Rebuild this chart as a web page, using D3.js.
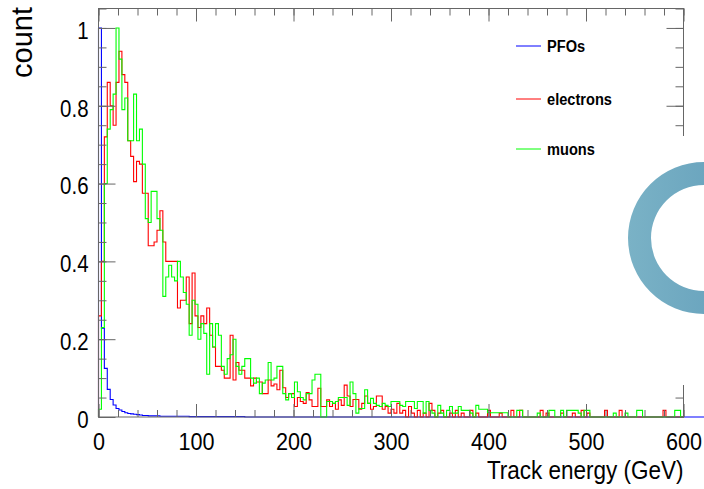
<!DOCTYPE html>
<html><head><meta charset="utf-8">
<script src="https://cdn.jsdelivr.net/npm/d3@7/dist/d3.min.js"></script>
<style>html,body{margin:0;padding:0;background:#fff;}svg{display:block;}</style>
</head><body>
<svg id="c" width="704" height="489"></svg>
<script>
// ---- data (3 GeV bins from 0 to 600 GeV) ----
const binWidth = 3;
const seriesNames = ["PFOs", "electrons", "muons"];
const seriesColors = ["#0000ff", "#ff0000", "#00ff00"];
const pfos = [
1.0,0.228,0.125,0.071,0.045,0.031,0.022,0.018,0.014,0.011,
0.009,0.008,0.007,0.006,0.005,0.004,0.004,0.003,0.003,0.003,
0.003,0.002,0.002,0.002,0.002,0.002,0.002,0.002,0.002,0.002,
0.002,0.001,0.001,0.001,0.001,0.001,0.001,0.001,0.001,0.001,
0.001,0.001,0.001,0.001,0.001,0.001,0.001,0.001,0.001,0.001,
0,0,0,0,0,0,0,0,0,0, 0,0,0,0,0,0,0,0,0,0,
0,0,0,0,0,0,0,0,0,0, 0,0,0,0,0,0,0,0,0,0,
0,0,0,0,0,0,0,0,0,0, 0,0,0,0,0,0,0,0,0,0,
0,0,0,0,0,0,0,0,0,0, 0,0,0,0,0,0,0,0,0,0,
0,0,0,0,0,0,0,0,0,0, 0,0,0,0,0,0,0,0,0,0,
0,0,0,0,0,0,0,0,0,0, 0,0,0,0,0,0,0,0,0,0,
0,0,0,0,0,0,0,0,0,0, 0,0,0,0,0,0,0,0,0,0,
0,0,0,0,0,0,0,0,0,0, 0,0,0,0,0,0,0,0,0,0,
0,0,0,0,0,0,0,0,0,0, 0,0,0,0,0,0,0,0,0,0,
0,0,0,0,0,0,0,0,0,0, 0,0,0,0,0,0,0,0,0,0
];
const electrons = [
0.26,0.40,0.72,0.86,0.80,0.75,0.86,0.94,0.88,0.86,
0.71,0.67,0.605,0.657,0.65,0.575,0.575,0.44,0.44,0.45,
0.48,0.53,0.45,0.40,0.40,0.40,0.40,0.28,0.30,0.30,
0.36,0.24,0.37,0.26,0.23,0.26,0.24,0.28,0.21,0.18,
0.13,0.13,0.12,0.10,0.10,0.21,0.095,0.14,0.12,0.12,
0.10,0.10,0.08,0.10,0.09,0.09,0.06,0.06,0.095,0.08,
0.085,0.07,0.12,0.075,0.05,0.06,0.06,0.027,0.05,0.04,
0.035,0.063,0.044,0.027,0.027,0.074,0.027,0.027,0.044,0.027,
0.035,0.02,0.044,0.03,0.082,0.054,0.027,0.045,0.045,0.02,
0.035,0.054,0.035,0.02,0.027,0.054,0.054,0.02,0.027,0.01,
0.02,0.01,0.035,0.01,0.017,0,0.027,0.01,0,0.017,
0,0.01,0,0.035,0.017,0,0.01,0.017,0,0,
0.01,0,0.017,0,0.01,0,0,0.017,0,0.01,
0,0,0,0.017,0,0,0,0.01,0,0,
0,0.017,0,0,0.017,0,0,0,0,0,
0,0.017,0,0.01,0,0,0,0,0.01,0,
0,0,0.01,0,0,0.017,0,0.01,0,0,
0,0,0,0.017,0,0,0,0,0.017,0,
0,0,0,0,0,0,0,0,0,0,
0,0,0,0.017,0,0,0,0,0,0
];
const muons = [
0.02,0.23,0.60,0.74,0.79,0.83,1.00,0.92,0.79,0.82,
0.71,0.71,0.83,0.71,0.74,0.65,0.51,0.50,0.58,0.58,
0.51,0.48,0.31,0.36,0.39,0.36,0.35,0.40,0.36,0.32,
0.29,0.21,0.30,0.29,0.20,0.24,0.215,0.11,0.24,0.18,
0.24,0.21,0.13,0.11,0.15,0.16,0.20,0.13,0.11,0.13,
0.15,0.15,0.10,0.087,0.10,0.06,0.087,0.095,0.14,0.095,
0.10,0.13,0.13,0.06,0.044,0.06,0.05,0.09,0.065,0.05,
0.044,0.06,0.06,0.095,0.11,0.11,0,0,0.04,0.04,
0.035,0.04,0.05,0.05,0.05,0.03,0.09,0.06,0.01,0.022,
0.022,0.07,0.035,0.048,0.035,0.03,0.027,0.035,0.03,0.027,
0.04,0.04,0.04,0.03,0.027,0.04,0.04,0.04,0.022,0.04,
0.04,0.01,0.04,0.017,0.01,0,0.03,0.01,0,0.017,
0.027,0.01,0.01,0.027,0.017,0.017,0.017,0.01,0,0.03,
0.02,0.02,0.02,0.011,0.011,0.011,0.011,0.011,0.011,0.011,
0,0,0,0.017,0.017,0,0,0,0,0,
0.01,0,0,0,0.017,0.017,0,0,0.017,0,
0.017,0.017,0.017,0.017,0.01,0,0.017,0.017,0,0,
0,0,0,0,0,0,0.01,0,0,0,
0.01,0,0,0,0.017,0.017,0,0,0,0,
0,0,0,0,0,0,0,0.017,0.017,0
];
const xMajorTicks = [0, 100, 200, 300, 400, 500, 600];
const xTickLabels = ["0", "100", "200", "300", "400", "500", "600"];
const yMajorTicks = [0, 0.2, 0.4, 0.6, 0.8, 1];
const yTickLabels = ["0", "0.2", "0.4", "0.6", "0.8", "1"];
const xTitle = "Track energy (GeV)";
const yTitle = "count";

// ---- layout ----
const svg = d3.select("#c");
const L = 98.5, R = 683.5, T = 8.5, B = 417;
const x = d3.scaleLinear().domain([0, 600]).range([L, R]);
const y = d3.scaleLinear().domain([0, 1.05]).range([B, T]);
const xMinor = d3.range(0, 601, 20);
const yMinor = d3.range(0, 1.0501, 0.05).map(v => +v.toFixed(2));
const axisColor = "#666";

// histograms
function stepPath(vals) {
  const p = d3.path();
  p.moveTo(x(0), y(0));
  vals.forEach((v, i) => {
    p.lineTo(x(i * binWidth), y(v));
    p.lineTo(x((i + 1) * binWidth), y(v));
  });
  p.lineTo(x(vals.length * binWidth), y(0));
  return p.toString();
}
const allSeries = [pfos, electrons, muons];
allSeries.forEach((vals, k) => {
  svg.append("path").attr("d", stepPath(vals)).attr("fill", "none")
    .attr("stroke", seriesColors[k]).attr("stroke-width", 1.1);
});

// axes (ticks inside)
function styleAxis(g) {
  g.select(".domain").remove();
  g.selectAll("line").attr("stroke", axisColor);
}
svg.append("g").attr("transform", `translate(${L},0)`).call(d3.axisRight(y).tickValues(yMinor).tickSize(8).tickFormat("")).call(styleAxis);
svg.append("g").attr("transform", `translate(${L},0)`).call(d3.axisRight(y).tickValues(yMajorTicks).tickSize(17).tickFormat("")).call(styleAxis);
svg.append("g").attr("transform", `translate(${R},0)`).call(d3.axisLeft(y).tickValues(yMinor).tickSize(8).tickFormat("")).call(styleAxis);
svg.append("g").attr("transform", `translate(${R},0)`).call(d3.axisLeft(y).tickValues(yMajorTicks).tickSize(17).tickFormat("")).call(styleAxis);
svg.append("g").attr("transform", `translate(0,${B})`).call(d3.axisTop(x).tickValues(xMinor).tickSize(7).tickFormat("")).call(styleAxis);
svg.append("g").attr("transform", `translate(0,${B})`).call(d3.axisTop(x).tickValues(xMajorTicks).tickSize(13).tickFormat("")).call(styleAxis);
svg.append("g").attr("transform", `translate(0,${T})`).call(d3.axisBottom(x).tickValues(xMinor).tickSize(7).tickFormat("")).call(styleAxis);
svg.append("g").attr("transform", `translate(0,${T})`).call(d3.axisBottom(x).tickValues(xMajorTicks).tickSize(13).tickFormat("")).call(styleAxis);

// frame
svg.append("rect").attr("x", L).attr("y", T).attr("width", R - L).attr("height", B - T)
  .attr("fill", "none").attr("stroke", axisColor).attr("stroke-width", 1);

// tick labels (slightly condensed, like the original Helvetica rendering)
const font = "'Liberation Sans', Arial, Helvetica, sans-serif";
const yl = svg.append("g").attr("transform", `translate(${L},0)`)
  .call(d3.axisLeft(y).tickValues(yMajorTicks).tickSize(0).tickPadding(10)
    .tickFormat((d, i) => yTickLabels[i]));
yl.select(".domain").remove();
yl.selectAll("text").attr("font-family", font).attr("font-size", 23.5).attr("fill", "#000")
  .attr("x", -11.5).attr("dy", "0.44em").attr("transform", "scale(0.87,1)");

const xl = svg.append("g").attr("transform", `translate(0,${B})`)
  .call(d3.axisBottom(x).tickValues(xMajorTicks).tickSize(0).tickPadding(0)
    .tickFormat((d, i) => xTickLabels[i]));
xl.select(".domain").remove();
xl.selectAll("text").attr("font-family", font).attr("font-size", 23.5).attr("fill", "#000")
  .attr("y", 33).attr("dy", 0).attr("transform", "scale(0.92,1)");

// titles
svg.append("text").attr("transform", `translate(${R},479) scale(0.9,1)`).attr("text-anchor", "end")
  .attr("font-family", font).attr("font-size", 25).text(xTitle);
svg.append("text").attr("transform", "translate(32,7) rotate(-90)").attr("text-anchor", "end")
  .attr("font-family", font).attr("font-size", 29).text(yTitle);

// legend
const legY = [46, 99, 149];
seriesNames.forEach((n, k) => {
  svg.append("line").attr("x1", 516).attr("x2", 541).attr("y1", legY[k]).attr("y2", legY[k])
    .attr("stroke", seriesColors[k]).attr("stroke-width", 1);
  svg.append("text").attr("transform", `translate(547,${legY[k] + 6}) scale(0.86,1)`)
    .attr("font-family", font).attr("font-weight", "bold").attr("font-size", 17).text(n);
});

// decorative ring overlay
const defs = svg.append("defs");
const gr = defs.append("linearGradient").attr("id", "ringg").attr("x1", "0").attr("x2", "1").attr("y1", "0").attr("y2", "0");
gr.append("stop").attr("offset", "0").attr("stop-color", "#7ab2c6");
gr.append("stop").attr("offset", "0.5").attr("stop-color", "#6ca6bf");
gr.append("stop").attr("offset", "1").attr("stop-color", "#5f9cb8");
svg.append("rect").attr("x", 645).attr("y", 136).attr("width", 59).attr("height", 249).attr("fill", "#fff");
const arc = d3.arc().innerRadius(53).outerRadius(76).startAngle(0).endAngle(2 * Math.PI);
svg.append("path").attr("d", arc()).attr("transform", "translate(704,238)").attr("fill", "url(#ringg)");
</script>
</body></html>
